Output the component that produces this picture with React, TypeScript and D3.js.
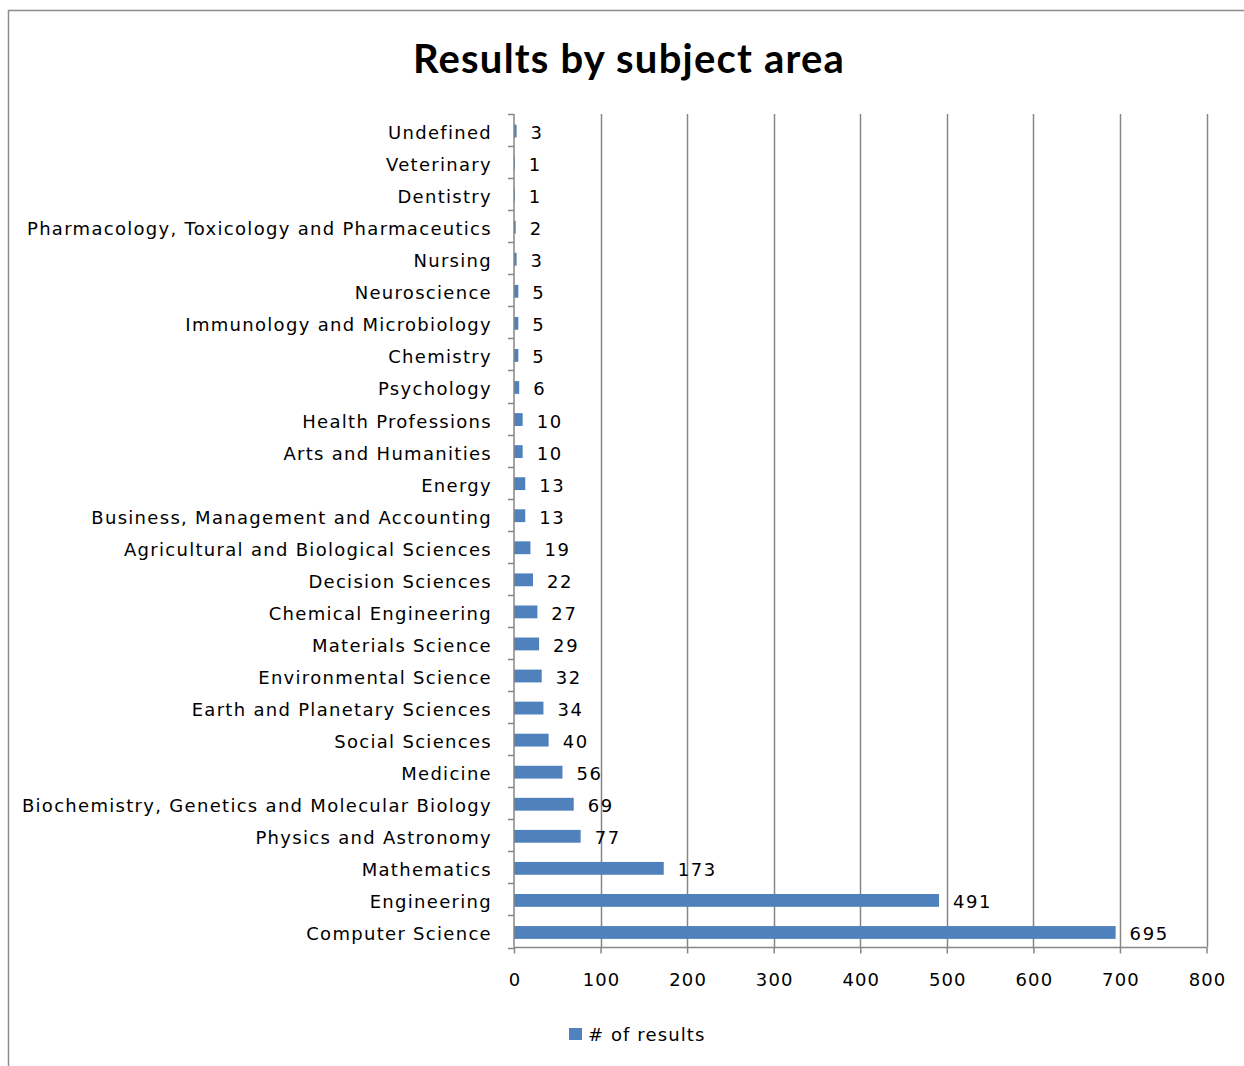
import React, { useEffect, useRef } from "react";
import * as d3 from "d3";

const categories = [
  "Undefined",
  "Veterinary",
  "Dentistry",
  "Pharmacology, Toxicology and Pharmaceutics",
  "Nursing",
  "Neuroscience",
  "Immunology and Microbiology",
  "Chemistry",
  "Psychology",
  "Health Professions",
  "Arts and Humanities",
  "Energy",
  "Business, Management and Accounting",
  "Agricultural and Biological Sciences",
  "Decision Sciences",
  "Chemical Engineering",
  "Materials Science",
  "Environmental Science",
  "Earth and Planetary Sciences",
  "Social Sciences",
  "Medicine",
  "Biochemistry, Genetics and Molecular Biology",
  "Physics and Astronomy",
  "Mathematics",
  "Engineering",
  "Computer Science",
];
const values = [3, 1, 1, 2, 3, 5, 5, 5, 6, 10, 10, 13, 13, 19, 22, 27, 29, 32, 34, 40, 56, 69, 77, 173, 491, 695];
const xTicks = [0, 100, 200, 300, 400, 500, 600, 700, 800];
const title = "Results by subject area";
const seriesName = "# of results";

const W = 1244;
const H = 1066;
const M = { left: 514, right: 1206.5, top: 114, bottom: 947.5 };
const BAR = "#4F81BD";
const GRID = "#868686";
const FONT = "'DejaVu Sans', Verdana, sans-serif";
const LS = 1.3;

export default function App() {
  const ref = useRef<SVGSVGElement>(null);
  useEffect(() => {
    const svg = d3.select(ref.current);
    svg.selectAll("*").remove();

    const x = d3.scaleLinear().domain([0, 800]).range([M.left, M.right]);
    const y = d3.scaleBand().domain(categories).range([M.top, M.bottom]).paddingInner(0.6).paddingOuter(0.3);
    const band = d3.scaleBand().domain(categories).range([M.top, M.bottom]);

    // frame
    svg.append("rect").attr("x", 8.5).attr("y", 10.5).attr("width", W + 20).attr("height", H + 20)
      .attr("fill", "white").attr("stroke", "#8c8c8c").attr("stroke-width", 1.5);

    // title
    svg.append("text").attr("x", 629).attr("y", 73).attr("text-anchor", "middle")
      .attr("font-family", "Lato, 'Open Sans', sans-serif").attr("font-weight", "bold")
      .attr("font-size", 40).attr("letter-spacing", 1.2).attr("fill", "#000").text(title);

    // grid
    svg.append("g").selectAll("line").data(xTicks.slice(1)).join("line")
      .attr("x1", (d) => Math.round(x(d)) + 0.5).attr("x2", (d) => Math.round(x(d)) + 0.5)
      .attr("y1", M.top).attr("y2", M.bottom)
      .attr("stroke", GRID).attr("stroke-width", 1.5);

    // bars
    svg.append("g").selectAll("rect").data(values).join("rect")
      .attr("x", x(0)).attr("y", (_, i) => y(categories[i])! + 1)
      .attr("width", (d) => x(d) - x(0)).attr("height", y.bandwidth())
      .attr("fill", BAR);

    // value labels
    svg.append("g").selectAll("text").data(values).join("text")
      .attr("x", (d) => x(d) + 14).attr("y", (_, i) => band(categories[i])! + band.bandwidth() / 2 + 4)
      .attr("dominant-baseline", "middle")
      .attr("font-family", FONT).attr("font-size", 18).attr("letter-spacing", 1.6).attr("fill", "#000")
      .text((d) => d);

    // y axis
    const yAxis = svg.append("g").attr("transform", `translate(${M.left},0)`)
      .call(d3.axisLeft(band).tickSize(6).tickPadding(16).tickValues(categories).tickFormat((d) => d as string));
    yAxis.select(".domain").remove();
    yAxis.selectAll(".tick line").remove();
    yAxis.selectAll(".tick text").attr("font-family", FONT).attr("font-size", 18).attr("letter-spacing", LS)
      .attr("fill", "#000").attr("dy", "0.5em");
    const yAxisG = svg.append("g");
    yAxisG.append("line").attr("x1", M.left).attr("x2", M.left).attr("y1", M.top).attr("y2", M.bottom)
      .attr("stroke", GRID).attr("stroke-width", 1.5);
    const edges = [...categories.map((c) => band(c)!), M.bottom];
    yAxisG.selectAll("line.t").data(edges).join("line").attr("class", "t")
      .attr("x1", M.left - 6).attr("x2", M.left).attr("y1", (d) => Math.round(d) + 0.5).attr("y2", (d) => Math.round(d) + 0.5)
      .attr("stroke", GRID).attr("stroke-width", 1.5);

    // x axis
    const xAxis = svg.append("g").attr("transform", `translate(0,${M.bottom})`)
      .call(d3.axisBottom(x).tickValues(xTicks).tickSize(6).tickPadding(20).tickFormat((d) => String(d)));
    xAxis.select(".domain").attr("stroke", GRID).attr("stroke-width", 1.5).attr("d", `M${M.left},0H${M.right}`);
    xAxis.selectAll(".tick line").attr("stroke", GRID).attr("stroke-width", 1.5);
    xAxis.selectAll(".tick text").attr("font-family", FONT).attr("font-size", 18).attr("letter-spacing", 1.1)
      .attr("dx", 0.5).attr("fill", "#000");

    // legend
    svg.append("rect").attr("x", 569).attr("y", 1028).attr("width", 13).attr("height", 12).attr("fill", BAR);
    svg.append("text").attr("x", 588).attr("y", 1036).attr("dominant-baseline", "middle")
      .attr("font-family", FONT).attr("font-size", 18).attr("letter-spacing", 1.1).attr("fill", "#000").text(seriesName);
  }, []);
  return (
    <svg ref={ref} width={W} height={H} style={{ position: "absolute", left: 0, top: 0, display: "block" }} />
  );
}
